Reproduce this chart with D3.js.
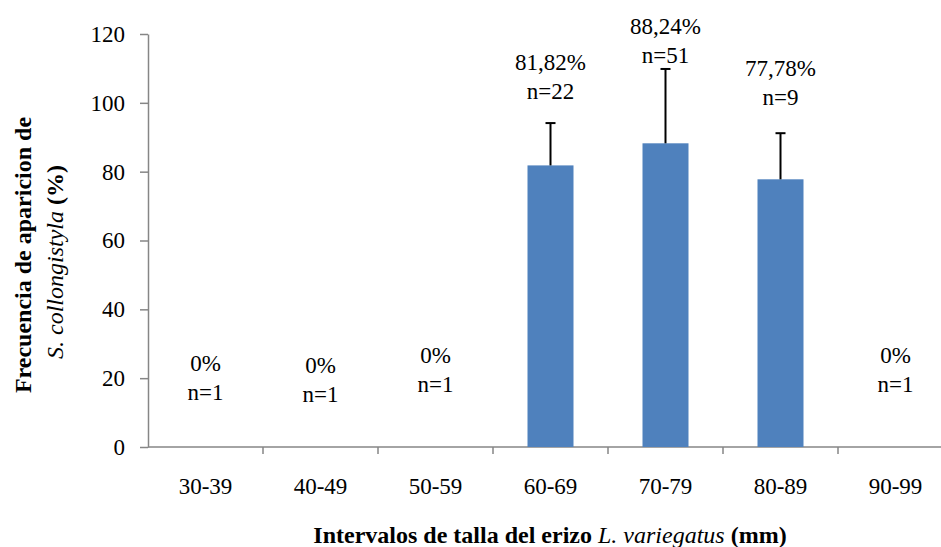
<!DOCTYPE html>
<html>
<head>
<meta charset="utf-8">
<script src="https://cdn.jsdelivr.net/npm/d3@7"></script>
<style>
  body { margin: 0; background: #fff; }
</style>
</head>
<body>
<svg id="chart" width="941" height="547"></svg>
<script>
// data
const categories = ["30-39", "40-49", "50-59", "60-69", "70-79", "80-89", "90-99"];
const freq = [0, 0, 0, 81.82, 88.24, 77.78, 0];
const errUp = [0, 0, 0, 12.3, 21.6, 13.4, 0];
const pctLabels = ["0%", "0%", "0%", "81,82%", "88,24%", "77,78%", "0%"];
const nLabels = ["n=1", "n=1", "n=1", "n=22", "n=51", "n=9", "n=1"];
const yTicks = [0, 20, 40, 60, 80, 100, 120];

const serif = "'Liberation Serif', 'Times New Roman', serif";
const fs = "23px";
const fsTitle = "24px";

const svg = d3.select("#chart");

const x = d3.scaleBand().domain(categories).range([148, 953]).paddingInner(0.6).paddingOuter(0.3);
const y = d3.scaleLinear().domain([0, 120]).range([447, 34]);
const step = x.step();

// y axis
const gy = svg.append("g").attr("transform", "translate(148,0)")
    .call(d3.axisLeft(y).tickValues(yTicks).tickSize(8).tickPadding(15).tickSizeOuter(0));
gy.attr("font-family", serif).attr("font-size", fs);
gy.select(".domain").attr("stroke", "#868686").attr("stroke-width", 1.5);
gy.selectAll(".tick line").attr("stroke", "#868686").attr("stroke-width", 1.5);
gy.selectAll(".tick text").attr("fill", "#000");

// x axis line and ticks at band boundaries
svg.append("line").attr("x1", 148).attr("x2", 953).attr("y1", y(0)).attr("y2", y(0))
    .attr("stroke", "#868686").attr("stroke-width", 1.5);
svg.selectAll(".xtick").data(categories.slice(1)).enter().append("line")
    .attr("x1", d => x(d) - (step - x.bandwidth()) / 2)
    .attr("x2", d => x(d) - (step - x.bandwidth()) / 2)
    .attr("y1", y(0)).attr("y2", y(0) + 7)
    .attr("stroke", "#868686").attr("stroke-width", 1.5);
svg.selectAll(".xlab").data(categories).enter().append("text")
    .attr("x", d => x(d) + x.bandwidth() / 2)
    .attr("y", 494)
    .attr("text-anchor", "middle")
    .attr("font-family", serif).attr("font-size", fs)
    .text(d => d);

// bars
svg.selectAll(".bar").data(categories.map((c, i) => ({c, v: freq[i]})).filter(d => d.v > 0))
    .enter().append("rect")
    .attr("x", d => x(d.c))
    .attr("width", x.bandwidth())
    .attr("y", d => y(d.v))
    .attr("height", d => y(0) - y(d.v))
    .attr("fill", "#4F81BD");

// error bars
const eb = svg.selectAll(".err").data(categories.map((c, i) => ({c, v: freq[i], e: errUp[i]})).filter(d => d.e > 0))
    .enter().append("g");
eb.append("line")
    .attr("x1", d => x(d.c) + x.bandwidth() / 2).attr("x2", d => x(d.c) + x.bandwidth() / 2)
    .attr("y1", d => y(d.v)).attr("y2", d => y(d.v + d.e))
    .attr("stroke", "#000").attr("stroke-width", 2);
eb.append("line")
    .attr("x1", d => x(d.c) + x.bandwidth() / 2 - 5).attr("x2", d => x(d.c) + x.bandwidth() / 2 + 5)
    .attr("y1", d => y(d.v + d.e)).attr("y2", d => y(d.v + d.e))
    .attr("stroke", "#000").attr("stroke-width", 2);

// data labels (hand placed in the original, baseline of first line)
const labelTop = [371, 373, 363, 70, 34, 76, 363];
categories.forEach((c, i) => {
  const cx = x(c) + x.bandwidth() / 2;
  const t = svg.append("text").attr("text-anchor", "middle")
      .attr("font-family", serif).attr("font-size", fs);
  t.append("tspan").attr("x", cx).attr("y", labelTop[i]).text(pctLabels[i]);
  t.append("tspan").attr("x", cx).attr("y", labelTop[i] + 28.5).text(nLabels[i]);
});

// x title
const xt = svg.append("text").attr("x", 550).attr("y", 543).attr("text-anchor", "middle")
    .attr("font-family", serif).attr("font-size", fsTitle).attr("font-weight", "bold");
xt.append("tspan").text("Intervalos de talla del erizo ");
xt.append("tspan").attr("font-style", "italic").attr("font-weight", "normal").text("L. variegatus");
xt.append("tspan").text(" (mm)");

// y title
svg.append("text").attr("transform", "translate(31,255) rotate(-90)")
    .attr("text-anchor", "middle").attr("font-family", serif).attr("font-size", fsTitle).attr("font-weight", "bold")
    .text("Frecuencia de aparicion de");
const yt2 = svg.append("text").attr("transform", "translate(63,262) rotate(-90)")
    .attr("text-anchor", "middle").attr("font-family", serif).attr("font-size", fsTitle).attr("font-weight", "bold");
yt2.append("tspan").attr("font-style", "italic").attr("font-weight", "normal").text("S. collongistyla");
yt2.append("tspan").text(" (%)");
</script>
</body>
</html>
